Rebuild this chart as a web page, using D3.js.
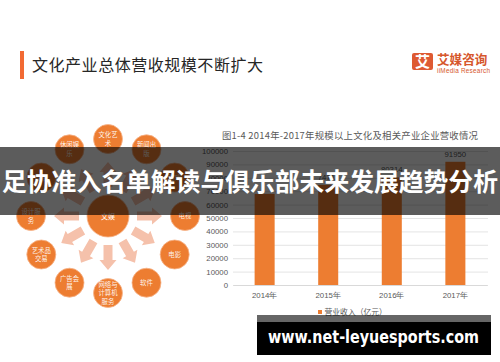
<!DOCTYPE html>
<html><head><meta charset="utf-8">
<script src="https://cdn.jsdelivr.net/npm/d3@7"></script>
<style>
html,body{margin:0;padding:0;background:#fff;}
svg{display:block;font-family:"Noto Sans CJK SC","Noto Sans",sans-serif;}
</style></head>
<body><svg id="c" width="500" height="362"></svg>
<script>
// ---- data ----
const years = ["2014年","2015年","2016年","2017年"];
const revenue = [68000, 74711, 80314, 91950];
const shownLabels = ["", "74711", "80314", "91950"];
const yTicks = [0,10000,20000,30000,40000,50000,60000,70000,80000,90000,100000];
const hubLabel = ["文娱"];
const sectors = [
  ["文化艺","术"],["新闻出","版"],["游戏"],["电视"],["电影"],["软件"],
  ["网络与","计算机","服务"],["广告会","展"],["艺术品","交易"],["设计服","务"],["动漫"],["休闲娱","乐"]
];
const slideTitle = "文化产业总体营收规模不断扩大";
const chartTitle = "图1-4 2014年-2017年规模以上文化及相关产业企业营收情况";
const legendLabel = "营业收入（亿元）";
const bannerText = "足协准入名单解读与俱乐部未来发展趋势分析";
const watermark = "www.net-leyuesports.com";

const svg = d3.select("#c");
const orange = "#ed7d31";

// ---- slide header ----
svg.append("rect").attr("x",20).attr("y",51).attr("width",4).attr("height",28).attr("fill","#f26a33");
svg.append("text").attr("x",32).attr("y",70.5).attr("font-size",16)
  .attr("textLength",231).attr("lengthAdjust","spacing")
  .attr("fill","#262626").text(slideTitle);

// logo
svg.append("rect").attr("x",412).attr("y",53).attr("width",21).attr("height",17).attr("rx",2).attr("fill","#de5a32");
svg.append("text").attr("x",422.5).attr("y",66.5).attr("text-anchor","middle").attr("font-size",15)
  .attr("font-weight","bold").attr("fill","#fff").text("艾");
svg.append("text").attr("x",437).attr("y",64).attr("font-size",12.6).attr("font-weight","bold")
  .attr("fill","#d6572d").text("艾媒咨询");
svg.append("text").attr("x",437).attr("y",73).attr("font-size",6.4).attr("textLength",53)
  .attr("fill","#d6572d").attr("font-family","Liberation Sans, sans-serif").text("iiMedia Research");

// ---- radial diagram ----
const cx = 108, cy = 216, R = 77;
const ang = d3.scaleLinear().domain([0, sectors.length]).range([0, 360]);
const diag = svg.append("g");
const arrowPts = [[-4.5,-29],[-4.5,-44],[-8.5,-44],[0,-54],[8.5,-44],[4.5,-44],[4.5,-29]];
sectors.forEach((s,i)=>{
  diag.append("path").attr("d", d3.line()(arrowPts)+"Z")
    .attr("transform",`translate(${cx},${cy}) rotate(${ang(i)})`)
    .attr("fill","#f5c1ab");
});
diag.append("circle").attr("cx",cx).attr("cy",cy).attr("r",21).attr("fill",orange)
  .attr("stroke","#f6b48a").attr("stroke-width",0.8);
diag.append("text").attr("x",cx).attr("y",cy+2.5).attr("text-anchor","middle").attr("font-size",7)
  .attr("fill","#fff").text(hubLabel[0]);
sectors.forEach((s,i)=>{
  const a = ang(i)*Math.PI/180;
  const x = cx + R*Math.sin(a), y = cy - R*Math.cos(a);
  diag.append("circle").attr("cx",x).attr("cy",y).attr("r",14.5).attr("fill",orange)
    .attr("stroke","#f6b48a").attr("stroke-width",0.8);
  const lh = 8.5;
  s.forEach((t,j)=>{
    diag.append("text").attr("x",x).attr("y",y + 2.4 + (j-(s.length-1)/2)*lh)
      .attr("text-anchor","middle").attr("font-size",6.4).attr("fill","#fff").attr("fill-opacity",0.92).text(t);
  });
});

// ---- bar chart ----
svg.append("text").attr("x",222).attr("y",138.5).attr("font-size",9.4).attr("fill","#595959")
  .attr("textLength",256).text(chartTitle);
const x = d3.scaleBand().domain(years).range([233,487]).paddingInner(0.685).paddingOuter(0.34);
const y = d3.scaleLinear().domain([0,100000]).range([285,151]);
const grid = svg.append("g").attr("transform","translate(233,0)")
  .call(d3.axisLeft(y).tickValues(yTicks).tickSize(-255).tickFormat(""));
grid.select(".domain").remove();
grid.selectAll("line").attr("stroke","#d9d9d9").attr("stroke-width",0.7);
const yAx = svg.append("g").attr("transform","translate(228,0)")
  .call(d3.axisLeft(y).tickValues(yTicks).tickSize(0).tickPadding(0).tickFormat(d3.format("d")));
yAx.select(".domain").remove();
yAx.selectAll("text").attr("font-size",7.8).attr("fill","#595959").attr("font-family","Liberation Sans, sans-serif");
svg.append("g").selectAll("rect").data(years).join("rect")
  .attr("x",d=>x(d)).attr("width",x.bandwidth())
  .attr("y",(d,i)=>y(revenue[i])).attr("height",(d,i)=>y(0)-y(revenue[i])).attr("fill",orange);
svg.append("g").selectAll("text").data(years).join("text")
  .attr("x",d=>x(d)+x.bandwidth()/2).attr("y",(d,i)=>y(revenue[i])-5)
  .attr("text-anchor","middle").attr("font-size",7.8).attr("fill","#595959")
  .attr("font-family","Liberation Sans, sans-serif").text((d,i)=>shownLabels[i]);
const xAx = svg.append("g").attr("transform","translate(0,285)").call(d3.axisBottom(x).tickSize(0).tickPadding(7));
xAx.select(".domain").attr("stroke","#d9d9d9");
xAx.selectAll("text").attr("font-size",7.8).attr("fill","#595959");
svg.append("rect").attr("x",318).attr("y",310).attr("width",4).attr("height",4).attr("fill",orange);
svg.append("text").attr("x",324.5).attr("y",314.5).attr("font-size",7.8).attr("fill","#595959").text(legendLabel);

// ---- overlays ----
svg.append("rect").attr("x",0).attr("y",147).attr("width",500).attr("height",68).attr("fill","rgba(0,0,0,0.64)");
svg.append("text").attr("x",250).attr("y",191).attr("text-anchor","middle").attr("font-size",24.8)
  .attr("font-weight","bold").attr("fill","#fff").text(bannerText);
svg.append("rect").attr("x",257).attr("y",315).attr("width",234).attr("height",8).attr("fill","rgba(0,0,0,0.6)");
svg.append("rect").attr("x",257).attr("y",322).attr("width",234).attr("height",33).attr("fill","#000");
svg.append("text").attr("x",268).attr("y",343).attr("font-size",18.5).attr("font-weight","bold")
  .attr("textLength",211).attr("lengthAdjust","spacingAndGlyphs")
  .attr("fill","#fff").attr("font-family","DejaVu Sans, sans-serif").text(watermark);
</script></body></html>
